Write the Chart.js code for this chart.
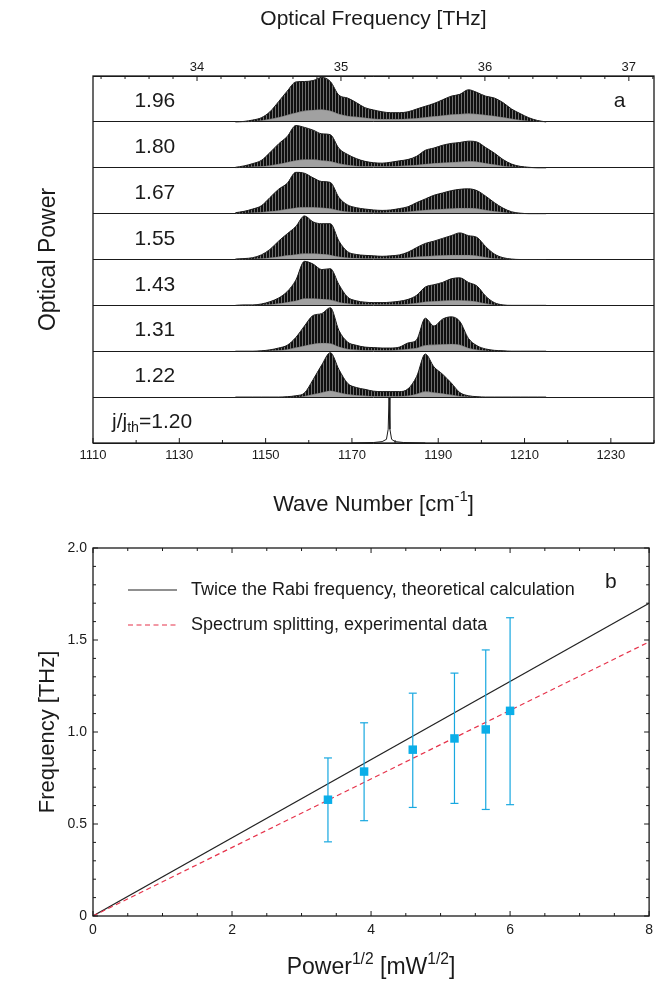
<!DOCTYPE html>
<html><head><meta charset="utf-8">
<script src="https://cdn.jsdelivr.net/npm/chart.js@4.4.1/dist/chart.umd.min.js"></script>
<style>
html,body{margin:0;padding:0;background:#fff;}
canvas{position:absolute;left:0;}
#c1{top:0;} #c2{top:525px;}
</style></head><body>
<canvas id="c1" width="659" height="525"></canvas>
<canvas id="c2" width="659" height="467"></canvas>
<script>
// ---------- Panel a: spectra (values = fraction of one stripe height) ----------
const waveNumber = [1143,1145,1147,1149,1151,1153,1155,1157,1159,1161,1163,1165,1167,1169,1171,1173,1175,1177,1179,1181,1183,1185,1187,1189,1191,1193,1195,1197,1199,1201,1203,1205,1207,1209,1211,1213,1215];
const upper196 = [0.00,0.01,0.04,0.09,0.22,0.44,0.67,0.87,0.88,0.90,0.97,0.88,0.58,0.52,0.42,0.31,0.26,0.22,0.20,0.20,0.22,0.28,0.34,0.40,0.48,0.56,0.60,0.70,0.64,0.56,0.52,0.42,0.28,0.18,0.09,0.03,0.00];
const lower196 = [0,0,0.01,0.03,0.06,0.10,0.15,0.20,0.24,0.26,0.27,0.24,0.17,0.13,0.11,0.09,0.07,0.06,0.06,0.06,0.07,0.08,0.10,0.12,0.14,0.16,0.17,0.18,0.17,0.15,0.13,0.10,0.07,0.04,0.02,0.01,0];
const upper180 = [0.01,0.04,0.09,0.16,0.33,0.52,0.68,0.92,0.88,0.82,0.74,0.72,0.42,0.29,0.20,0.14,0.11,0.10,0.12,0.15,0.18,0.25,0.38,0.43,0.49,0.53,0.55,0.58,0.56,0.44,0.32,0.18,0.08,0.03,0.01,0,0];
const lower180 = [0,0.01,0.02,0.03,0.05,0.08,0.12,0.16,0.18,0.18,0.16,0.14,0.09,0.06,0.04,0.03,0.03,0.03,0.03,0.04,0.05,0.06,0.08,0.10,0.11,0.12,0.13,0.14,0.13,0.10,0.07,0.04,0.02,0.01,0,0,0];
const upper167 = [0.02,0.05,0.10,0.17,0.35,0.53,0.66,0.90,0.88,0.78,0.70,0.68,0.35,0.19,0.13,0.10,0.08,0.07,0.08,0.11,0.15,0.24,0.32,0.40,0.45,0.50,0.53,0.54,0.50,0.38,0.24,0.12,0.04,0.01,0,0,0];
const lower167 = [0,0.01,0.02,0.03,0.05,0.07,0.10,0.13,0.14,0.14,0.13,0.11,0.07,0.04,0.03,0.03,0.02,0.02,0.03,0.03,0.04,0.06,0.08,0.09,0.10,0.11,0.12,0.12,0.11,0.08,0.05,0.03,0.01,0,0,0,0];
const upper155 = [0.01,0.02,0.04,0.10,0.22,0.40,0.56,0.72,0.95,0.82,0.78,0.78,0.40,0.17,0.11,0.09,0.08,0.07,0.08,0.10,0.16,0.26,0.35,0.40,0.46,0.52,0.58,0.52,0.48,0.28,0.12,0.04,0.01,0,0,0,0];
const lower155 = [0,0,0.01,0.02,0.04,0.06,0.09,0.11,0.13,0.13,0.12,0.10,0.06,0.04,0.03,0.02,0.02,0.02,0.02,0.03,0.04,0.06,0.07,0.08,0.09,0.10,0.10,0.10,0.08,0.05,0.02,0.01,0,0,0,0,0];
const upper143 = [0,0.01,0.01,0.03,0.08,0.16,0.30,0.55,0.96,0.90,0.78,0.80,0.45,0.18,0.10,0.07,0.06,0.06,0.07,0.09,0.13,0.22,0.40,0.45,0.50,0.58,0.60,0.50,0.42,0.20,0.06,0.01,0,0,0,0,0];
const lower143 = [0,0,0,0.01,0.02,0.04,0.07,0.10,0.15,0.15,0.14,0.12,0.07,0.04,0.02,0.02,0.02,0.02,0.02,0.02,0.03,0.05,0.08,0.09,0.10,0.11,0.11,0.10,0.08,0.04,0.01,0,0,0,0,0,0];
const upper131 = [0,0,0,0.01,0.03,0.07,0.13,0.30,0.55,0.78,0.82,0.95,0.45,0.20,0.13,0.09,0.08,0.07,0.07,0.09,0.18,0.25,0.72,0.55,0.70,0.75,0.65,0.28,0.12,0.05,0.02,0.01,0,0,0,0,0];
const lower131 = [0,0,0,0,0.01,0.02,0.04,0.08,0.12,0.16,0.18,0.17,0.10,0.05,0.03,0.02,0.02,0.02,0.02,0.03,0.05,0.07,0.13,0.14,0.15,0.16,0.14,0.07,0.03,0.01,0,0,0,0,0,0,0];
const upper122 = [0,0,0,0,0,0,0.01,0.03,0.09,0.38,0.70,0.97,0.60,0.30,0.21,0.17,0.13,0.12,0.12,0.12,0.18,0.45,0.94,0.66,0.50,0.31,0.10,0.03,0.01,0,0,0,0,0,0,0,0];
const lower122 = [0,0,0,0,0,0,0,0,0.02,0.06,0.10,0.14,0.10,0.06,0.04,0.03,0.02,0.02,0.02,0.02,0.03,0.07,0.12,0.10,0.08,0.05,0.02,0.01,0,0,0,0,0,0,0,0,0];
const laserWaveNumber = [1170,1175,1177,1178,1178.4,1178.6,1178.8,1179.2,1180,1182,1187];
const laserPower = [0,0.01,0.03,0.08,0.30,1.00,0.30,0.08,0.03,0.01,0];
const currentRatios = ['1.20','1.22','1.31','1.43','1.55','1.67','1.80','1.96'];
const wnTickStep = 10, wnLabelStep = 20;
const thzMajorStep = 1, thzMinorStep = 1/6;
const WN_PER_THZ = 33.356;

// ---------- Panel b ----------
const powerRoot = [3.38, 3.90, 4.60, 5.20, 5.65, 6.00];
const splitting = [0.632, 0.785, 0.904, 0.965, 1.014, 1.115];
const errLow = [0.403, 0.518, 0.590, 0.612, 0.579, 0.605];
const errHigh = [0.859, 1.050, 1.211, 1.320, 1.446, 1.621];
const rabiX = [0, 8], rabiY = [0, 1.70];
const fitX = [0, 8], fitY = [0, 1.49];

const FONT = '"Liberation Sans", Arial, Helvetica, sans-serif';
Chart.defaults.font.family = FONT;
Chart.defaults.color = '#1a1a1a';

function drawRich(ctx, segs, x, y, size, align) {
  const parts = segs.map(s => {
    const fs = (s.sup || s.sub) ? size * 0.68 : size;
    ctx.font = fs + 'px ' + FONT;
    return {t: s.t, fs, w: ctx.measureText(s.t).width, dy: s.sup ? -size * 0.36 : (s.sub ? size * 0.28 : 0)};
  });
  const total = parts.reduce((a, p) => a + p.w, 0);
  let cx = align === 'center' ? x - total / 2 : (align === 'right' ? x - total : x);
  ctx.fillStyle = '#1a1a1a'; ctx.textBaseline = 'middle'; ctx.textAlign = 'left';
  parts.forEach(p => { ctx.font = p.fs + 'px ' + FONT; ctx.fillText(p.t, cx, y + p.dy); cx += p.w; });
}

function makeDecor(cfg) {
  return {
    id: 'decor',
    afterDatasetsDraw(chart) {
      const ctx = chart.ctx, a = chart.chartArea;
      ctx.save();
      ctx.strokeStyle = '#1a1a1a'; ctx.lineWidth = 1;
      cfg.ticks.forEach(spec => {
        const s = chart.scales[spec.scale];
        s.ticks.forEach(t => {
          const len = spec.major(t.value) ? 5 : 3;
          const p = s.getPixelForValue(t.value);
          spec.sides.forEach(side => {
            ctx.beginPath();
            if (side === 'bottom') { ctx.moveTo(p, a.bottom); ctx.lineTo(p, a.bottom - len); }
            else if (side === 'top') { ctx.moveTo(p, a.top); ctx.lineTo(p, a.top + len); }
            else if (side === 'left') { ctx.moveTo(a.left, p); ctx.lineTo(a.left + len, p); }
            else { ctx.moveTo(a.right, p); ctx.lineTo(a.right - len, p); }
            ctx.stroke();
          });
        });
      });
      ctx.lineWidth = 1.3;
      ctx.strokeRect(a.left, a.top, a.right - a.left, a.bottom - a.top);
      cfg.texts.forEach(tx => {
        let x, y;
        if (tx.data) { x = chart.scales[tx.xs].getPixelForValue(tx.data[0]); y = chart.scales[tx.ys].getPixelForValue(tx.data[1]); }
        else { x = (a.left + a.right) / 2; y = a.bottom + tx.below; }
        drawRich(ctx, tx.segs, x, y, tx.size, tx.align);
      });
      if (cfg.legend) {
        cfg.legend.forEach((idx, r) => {
          const ds = chart.data.datasets[idx];
          const y = a.top + 42 + r * 35;
          ctx.beginPath();
          ctx.strokeStyle = ds.borderColor; ctx.lineWidth = ds.borderWidth;
          ctx.setLineDash(ds.borderDash || []);
          ctx.moveTo(a.left + 35, y); ctx.lineTo(a.left + 84, y); ctx.stroke();
          ctx.setLineDash([]);
          drawRich(ctx, [{t: ds.label}], a.left + 98, y, 18, 'left');
        });
      }
      ctx.restore();
    }
  };
}

// ---------- Top chart ----------
const c1 = document.getElementById('c1');
const ctx1 = c1.getContext('2d');
const hatchCanvas = document.createElement('canvas');
hatchCanvas.width = 3; hatchCanvas.height = 1;
const hg = hatchCanvas.getContext('2d');
hg.fillStyle = '#101010'; hg.fillRect(0, 0, 2, 1);
hg.fillStyle = '#6e6e6e'; hg.fillRect(2, 0, 1, 1);
const hatch = ctx1.createPattern(hatchCanvas, 'repeat');

const uppers = [null, upper122, upper131, upper143, upper155, upper167, upper180, upper196];
const lowers = [null, lower122, lower131, lower143, lower155, lower167, lower180, lower196];
const topDatasets = [{
  label: currentRatios[0], xAxisID: 'x', yAxisID: 'y',
  data: laserWaveNumber.map((x, i) => ({x, y: laserPower[i]})),
  borderColor: '#1a1a1a', borderWidth: 1, pointRadius: 0, fill: false, tension: 0
}];
for (let k = 1; k < 8; k++) {
  const lowIdx = topDatasets.length;
  topDatasets.push({
    label: currentRatios[k] + ' min', xAxisID: 'x', yAxisID: 'y',
    data: waveNumber.map((x, i) => ({x, y: k + lowers[k][i]})),
    borderColor: 'rgba(60,60,60,0.6)', borderWidth: 0.6, pointRadius: 0,
    fill: {value: k}, backgroundColor: 'rgba(30,30,30,0.42)',
    cubicInterpolationMode: 'monotone'
  });
  topDatasets.push({
    label: currentRatios[k], xAxisID: 'x', yAxisID: 'y',
    data: waveNumber.map((x, i) => ({x, y: k + uppers[k][i]})),
    borderColor: '#1a1a1a', borderWidth: 1, pointRadius: 0, fill: lowIdx,
    backgroundColor: hatch, cubicInterpolationMode: 'monotone'
  });
}

const topTexts = currentRatios.map((r, k) => ({
  data: [k === 0 ? 1114.4 : 1119.6, k + 0.45], xs: 'x', ys: 'y', size: 21, align: 'left',
  segs: k === 0 ? [{t: 'j/j'}, {t: 'th', sub: true}, {t: '=' + r}] : [{t: r}]
}));
topTexts.push({data: [1232, 7.45], xs: 'x', ys: 'y', size: 21, align: 'center', segs: [{t: 'a'}]});
topTexts.push({below: 62, size: 22, align: 'center', segs: [{t: 'Wave Number [cm'}, {t: '-1', sup: true}, {t: ']'}]});

const near = (v, step) => Math.abs(v / step - Math.round(v / step)) < 1e-3;

new Chart(ctx1, {
  type: 'line',
  data: {datasets: topDatasets},
  options: {
    responsive: false, animation: false, devicePixelRatio: 1, events: [],
    layout: {padding: {left: 0, right: 4, top: 0, bottom: 0}},
    plugins: {legend: {display: false}, tooltip: {enabled: false}},
    scales: {
      x: {
        type: 'linear', position: 'bottom', min: 1110, max: 1240,
        grid: {display: false, drawTicks: false, tickLength: 0}, border: {display: false},
        ticks: {stepSize: wnTickStep, autoSkip: false, maxRotation: 0, padding: 5, font: {size: 13},
          callback: v => near(v - 1110, wnLabelStep) ? String(v) : ''},
        afterFit: s => { s.height = 82; }
      },
      x2: {
        type: 'linear', position: 'top', min: 1110 / WN_PER_THZ, max: 1240 / WN_PER_THZ,
        grid: {display: false, drawTicks: false, tickLength: 0}, border: {display: false},
        ticks: {stepSize: thzMinorStep, includeBounds: false, autoSkip: false, maxRotation: 0, padding: 1, font: {size: 13},
          callback: v => near(v, thzMajorStep) ? String(Math.round(v)) : ''},
        title: {display: true, text: 'Optical Frequency [THz]', font: {size: 21}, padding: {top: 7, bottom: 0}},
        afterFit: s => { s.height = 76; }
      },
      y: {
        min: 0, max: 8,
        grid: {color: '#1a1a1a', lineWidth: 1, drawTicks: false, tickLength: 0}, border: {display: false},
        ticks: {stepSize: 1, display: false},
        title: {display: true, text: 'Optical Power', font: {size: 23}, padding: {top: 35}},
        afterFit: s => { s.width = 93; }
      }
    }
  },
  plugins: [makeDecor({
    ticks: [
      {scale: 'x', sides: ['bottom'], major: v => near(v - 1110, wnLabelStep)},
      {scale: 'x2', sides: ['top'], major: v => near(v, thzMajorStep)}
    ],
    texts: topTexts
  })]
});

// ---------- Bottom chart ----------
const errData = [];
powerRoot.forEach((x, i) => { errData.push({x, y: errLow[i]}, {x, y: errHigh[i]}, {x, y: null}); });

const bottomDatasets = [
  {label: 'Measured splitting', data: powerRoot.map((x, i) => ({x, y: splitting[i]})),
   showLine: false, pointStyle: 'rect', pointRadius: 6, backgroundColor: '#0aaee8', borderColor: '#0aaee8', borderWidth: 0},
  {label: 'Error bars', data: errData, showLine: true, spanGaps: false,
   borderColor: '#18a8e0', borderWidth: 1.2, pointStyle: 'line', pointRadius: 4,
   pointBorderColor: '#18a8e0', pointBorderWidth: 1.2},
  {label: 'Spectrum splitting, experimental data', data: fitX.map((x, i) => ({x, y: fitY[i]})),
   borderColor: '#e6334b', borderWidth: 1.2, borderDash: [5, 3.5], pointRadius: 0, fill: false},
  {label: 'Twice the Rabi frequency, theoretical calculation', data: rabiX.map((x, i) => ({x, y: rabiY[i]})),
   borderColor: '#222222', borderWidth: 1.1, pointRadius: 0, fill: false}
];

new Chart(document.getElementById('c2').getContext('2d'), {
  type: 'line',
  data: {datasets: bottomDatasets},
  options: {
    responsive: false, animation: false, devicePixelRatio: 1, events: [],
    layout: {padding: {left: 0, right: 4, top: 23, bottom: 0}},
    plugins: {legend: {display: false}, tooltip: {enabled: false}},
    scales: {
      x: {
        type: 'linear', min: 0, max: 8,
        grid: {display: false, drawTicks: false, tickLength: 0}, border: {display: false},
        ticks: {stepSize: 0.5, autoSkip: false, maxRotation: 0, padding: 6, font: {size: 14},
          callback: v => near(v, 2) ? String(v) : ''},
        afterFit: s => { s.height = 76; }
      },
      y: {
        min: 0, max: 2,
        grid: {display: false, drawTicks: false, tickLength: 0}, border: {display: false},
        ticks: {stepSize: 0.1, autoSkip: false, padding: 6, font: {size: 14},
          callback: v => near(v, 0.5) ? (Math.abs(v) < 1e-9 ? '0' : v.toFixed(1)) : ''},
        title: {display: true, text: 'Frequency [THz]', font: {size: 22}, padding: {top: 35}},
        afterFit: s => { s.width = 93; }
      }
    }
  },
  plugins: [makeDecor({
    ticks: [
      {scale: 'x', sides: ['bottom', 'top'], major: v => near(v, 2)},
      {scale: 'y', sides: ['left', 'right'], major: v => near(v, 0.5)}
    ],
    texts: [
      {data: [7.45, 1.815], xs: 'x', ys: 'y', size: 21, align: 'center', segs: [{t: 'b'}]},
      {below: 52, size: 23, align: 'center', segs: [{t: 'Power'}, {t: '1/2', sup: true}, {t: ' [mW'}, {t: '1/2', sup: true}, {t: ']'}]}
    ],
    legend: [3, 2]
  })]
});
</script>
</body></html>
